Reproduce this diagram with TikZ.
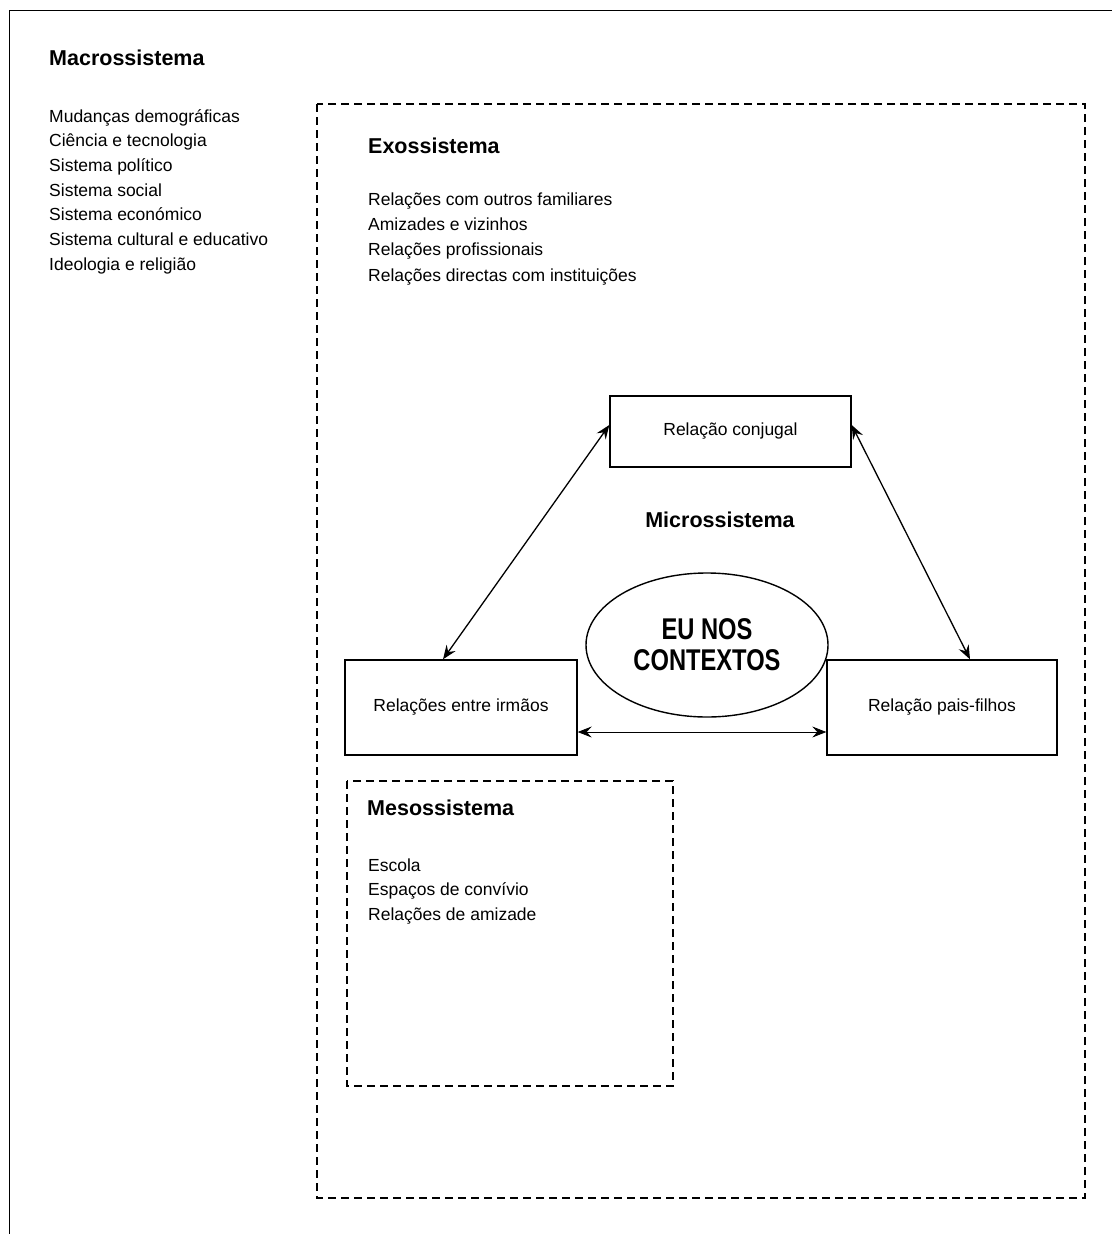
\documentclass[tikz,border=0pt]{standalone}
\usepackage{fontspec}
\usepackage{graphicx}
\setmainfont{Liberation Sans}
\usetikzlibrary{shapes.geometric,arrows.meta,calc}

\begin{document}
\begin{tikzpicture}[x=1pt,y=-1pt,
  frame/.style={line width=1.5pt},
  dbox/.style={line width=1.4pt, dash pattern=on 8pt off 5pt},
  rbox/.style={draw, line width=1.4pt, inner sep=0pt, font=\fontsize{17.5}{21}\selectfont},
  systitle/.style={anchor=base west, inner sep=0pt, font=\fontsize{21.5}{25}\selectfont\bfseries},
  item/.style={anchor=base west, inner sep=0pt, font=\fontsize{17.5}{21}\selectfont},
  link/.style={line width=1.3pt, arrows={Stealth[length=14pt,width=11pt,inset=5pt]-Stealth[length=14pt,width=11pt,inset=5pt]}},
  thinlink/.style={line width=0.7pt, arrows={Stealth[length=14pt,width=11pt,inset=5pt]-Stealth[length=14pt,width=11pt,inset=5pt]}},
]
\useasboundingbox (0,0) rectangle (1112,1234);

% outer frame (open at the right and bottom)
\coordinate (fbl) at (9.5,1234);
\coordinate (ftl) at (9.5,10.5);
\coordinate (ftr) at (1112,10.5);
\draw[frame] (fbl) -- (ftl) -- (ftr);

% macro level
\node[systitle] (macro) at (49,65) {Macrossistema};
\foreach \t [count=\i from 0] in {Mudanças demográficas, Ciência e tecnologia,
    Sistema político, Sistema social, Sistema económico,
    Sistema cultural e educativo, Ideologia e religião}
  \node[item] (mac\i) at (49,122+24.7*\i) {\t};

% exo level
\draw[dbox] (317,104) rectangle (1085,1198);
\node[systitle] (exo) at (368,153) {Exossistema};
\foreach \t [count=\i from 0] in {Relações com outros familiares, Amizades e vizinhos,
    Relações profissionais, Relações directas com instituições}
  \node[item] (ex\i) at (368,205.5+25.2*\i) {\t};

% meso level
\draw[dbox] (347,781) rectangle (673,1086);
\node[systitle] (meso) at (367,815) {Mesossistema};
\foreach \t [count=\i from 0] in {Escola, Espaços de convívio, Relações de amizade}
  \node[item] (me\i) at (368,871+24.5*\i) {\t};

% micro level
\node[rbox, minimum width=241pt, minimum height=71pt] (conj) at (730.5,431.5) {Relação conjugal};
\node[rbox, minimum width=232pt, minimum height=95pt] (irm) at (461,707.5) {Relações entre irmãos};
\node[rbox, minimum width=230pt, minimum height=95pt] (pais) at (942,707.5) {Relação pais-filhos};
\node[anchor=base, inner sep=0pt, font=\fontsize{21.5}{25}\selectfont\bfseries] (micro) at (720,527) {Microssistema};

\node[draw, ellipse, line width=1.4pt, minimum width=242pt, minimum height=144pt, inner sep=0pt,
      align=center, font=\fontsize{30}{31}\selectfont\bfseries] (eu) at (707,645)
  {\scalebox{0.79}[1]{EU NOS}\\\scalebox{0.79}[1]{CONTEXTOS}};

\draw[link] ([yshift=6.5pt]conj.west) -- ([xshift=-18pt]irm.north);
\draw[link] ([yshift=6.5pt]conj.east) -- ([xshift=28pt]pais.north);
\draw[thinlink] ([yshift=-24.5pt]irm.east) -- ([yshift=-24.5pt]pais.west);
\end{tikzpicture}
\end{document}
